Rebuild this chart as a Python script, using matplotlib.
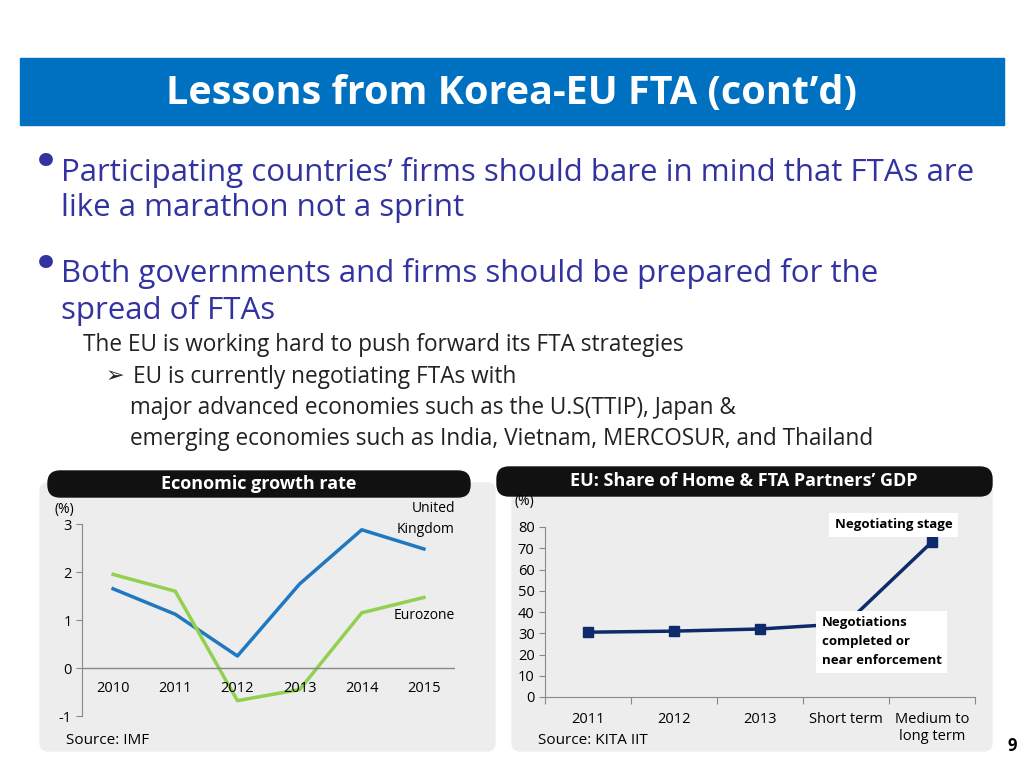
import matplotlib
matplotlib.use("Agg")
import matplotlib.pyplot as plt
from matplotlib.patches import FancyBboxPatch, Rectangle

W, H = 1024, 768
years = ['2010', '2011', '2012', '2013', '2014', '2015']
uk_growth = [1.65, 1.12, 0.25, 1.75, 2.88, 2.48]
euro_growth = [1.95, 1.6, -0.68, -0.45, 1.15, 1.47]

periods = ['2011', '2012', '2013', 'Short term', 'Medium to\nlong term']
gdp_share = [30.5, 31.0, 32.0, 34.5, 73.0]

plt.rcParams['font.family'] = ['Open Sans', 'DejaVu Sans']
fig = plt.figure(figsize=(W / 100, H / 100), dpi=100)


def ax_px(x0, y0, x1, y1):
    return fig.add_axes([x0 / W, 1 - y1 / H, (x1 - x0) / W, (y1 - y0) / H])


bg = fig.add_axes([0, 0, 1, 1])
bg.set_xlim(0, W)
bg.set_ylim(H, 0)
bg.axis('off')

# title bar
bg.add_patch(Rectangle((20, 58), 984, 67, color='#0070C0'))
bg.text(512, 94, 'Lessons from Korea-EU FTA (cont\u2019d)', color='white', fontsize=28.5,
        fontweight='bold', ha='center', va='center')

blue = '#3333A0'
bg.text(32, 165, '\u2022', color=blue, fontsize=34, va='center', family=['DejaVu Sans'])
bg.text(61, 190, 'Participating countries\u2019 firms should bare in mind that FTAs are\nlike a marathon not a sprint',
        color=blue, fontsize=22.5, va='center', linespacing=1.22)
bg.text(32, 267, '\u2022', color=blue, fontsize=34, va='center', family=['DejaVu Sans'])
bg.text(61, 292, 'Both governments and firms should be prepared for the\nspread of FTAs',
        color=blue, fontsize=22.5, va='center', linespacing=1.22)
txt = '#222222'
bg.text(83, 345, 'The EU is working hard to push forward its FTA strategies', fontsize=16.3, va='center', color=txt)
bg.text(106, 376, '\u27a2', fontsize=16, va='center', color=txt, family=['DejaVu Sans'])
bg.text(133, 377, 'EU is currently negotiating FTAs with', fontsize=16.3, va='center', color=txt)
bg.text(130, 408, 'major advanced economies such as the U.S(TTIP), Japan &', fontsize=16.3, va='center', color=txt)
bg.text(130, 439, 'emerging economies such as India, Vietnam, MERCOSUR, and Thailand', fontsize=16.3, va='center', color=txt)

# panels
bg.add_patch(FancyBboxPatch((40, 483), 455, 268, boxstyle='round,pad=0,rounding_size=8', color='#EDEDED'))
bg.add_patch(FancyBboxPatch((512, 483), 480, 268, boxstyle='round,pad=0,rounding_size=8', color='#EDEDED'))
bg.add_patch(FancyBboxPatch((48, 471), 422, 26, boxstyle='round,pad=0,rounding_size=12', color='#111111'))
bg.add_patch(FancyBboxPatch((497, 467), 495, 29, boxstyle='round,pad=0,rounding_size=12', color='#111111'))
bg.text(259, 484, 'Economic growth rate', color='white', fontsize=13, fontweight='bold', ha='center', va='center')
bg.text(744, 481, 'EU: Share of Home & FTA Partners\u2019 GDP', color='white', fontsize=13, fontweight='bold',
        ha='center', va='center')
bg.text(66, 741, 'Source: IMF', fontsize=11, va='center')
bg.text(538, 741, 'Source: KITA IIT', fontsize=11, va='center')
bg.text(1008, 746, '9', fontsize=12, fontweight='bold', va='center')

# left chart
ax1 = ax_px(82, 524, 455, 716)
ax1.patch.set_alpha(0)
x = range(len(years))
ax1.plot(x, uk_growth, color='#1F78C0', lw=2.5)
ax1.plot(x, euro_growth, color='#92D050', lw=2.5)
ax1.set_xlim(-0.5, 5.5)
ax1.set_ylim(-1, 3)
ax1.set_yticks([-1, 0, 1, 2, 3])
ax1.set_yticklabels(['-1', '0', '1', '2', '3'], fontsize=10.5)
ax1.set_xticks([])
for s in ['top', 'right', 'bottom']:
    ax1.spines[s].set_visible(False)
ax1.spines['left'].set_color('#888888')
ax1.axhline(0, color='#888888', lw=1)
ax1.tick_params(axis='y', length=4, color='#888888')
for i, yr in enumerate(years):
    ax1.text(i, -0.42, yr, ha='center', va='center', fontsize=10.5)
ax1.text(-0.95, 3.3, '(%)', fontsize=10, ha='left', va='center')
ax1.text(5.5, 3.1, 'United\nKingdom', fontsize=10, ha='right', va='center', linespacing=1.5)
ax1.text(5.5, 1.1, 'Eurozone', fontsize=10, ha='right', va='center')

# right chart
ax2 = ax_px(545, 527, 975, 697)
ax2.patch.set_alpha(0)
xp = range(len(periods))
ax2.plot(xp, gdp_share, color='#0F2A6B', lw=2.5, marker='s', ms=7)
ax2.set_xlim(-0.5, 4.5)
ax2.set_ylim(0, 80)
ax2.set_yticks(range(0, 81, 10))
ax2.tick_params(axis='y', labelsize=10.5, length=4, color='#888888')
ax2.set_xticks([i - 0.5 for i in range(6)])
ax2.set_xticklabels([])
ax2.tick_params(axis='x', length=5, color='#888888')
for s in ['top', 'right']:
    ax2.spines[s].set_visible(False)
ax2.spines['left'].set_color('#888888')
ax2.spines['bottom'].set_color('#888888')
for i, p in enumerate(periods):
    ax2.text(i, -7, p, ha='center', va='top', fontsize=10.5, linespacing=1.2)
ax2.text(-0.85, 92, '(%)', fontsize=10, va='center')
ax2.text(2.72, 38, 'Negotiations\ncompleted or\nnear enforcement', fontsize=9.5, fontweight='bold', va='top',
         linespacing=1.6, bbox=dict(facecolor='white', edgecolor='none', pad=4))
ax2.text(2.87, 81, 'Negotiating stage', fontsize=9.5, fontweight='bold', va='center',
         bbox=dict(facecolor='white', edgecolor='none', pad=4))

fig.savefig('out.png', dpi=100)
